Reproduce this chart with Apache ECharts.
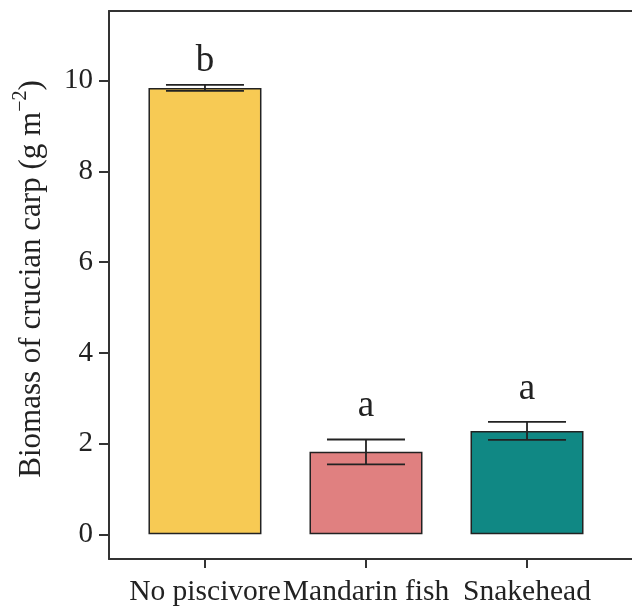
<!DOCTYPE html>
<html>
<head>
<meta charset="utf-8">
<script src="https://cdn.jsdelivr.net/npm/echarts@6/dist/echarts.min.js"></script>
<style>
html,body{margin:0;padding:0;background:#fff;}
#chart{width:632px;height:608px;}
</style>
</head>
<body>
<div id="chart"></div>
<script>
var categories = ['No piscivore', 'Mandarin fish', 'Snakehead'];
var means = [9.84, 1.82, 2.28];
var upper = [9.91, 2.09, 2.48];
var lower = [9.78, 1.54, 2.08];
var letters = ['b', 'a', 'a'];
var letterValues = [10.43, 2.83, 3.20];
var barColors = ['#F7CA54', '#E08080', '#108884'];
var yTicks = [0, 2, 4, 6, 8, 10];

var FONT = '"Liberation Serif", "Times New Roman", serif';
var INK = '#222';
var X_MIN = -0.596, X_MAX = 2.652;

var chart = echarts.init(document.getElementById('chart'), null, {renderer: 'canvas'});

var barData = categories.map(function (c, i) {
  return {value: [i, means[i]], itemStyle: {color: barColors[i]}};
});
var errData = categories.map(function (c, i) { return [i, lower[i], upper[i]]; });
var letterData = categories.map(function (c, i) { return [i, letterValues[i], letters[i]]; });
var xTicks = categories.map(function (c, i) { return i; });

var option = {
  animation: false,
  backgroundColor: '#fff',
  grid: {left: 109, right: 0, top: 11, bottom: 49, show: false},
  xAxis: [
    {
      type: 'value',
      min: X_MIN, max: X_MAX,
      splitLine: {show: false},
      axisLine: {show: true, onZero: false, lineStyle: {color: '#333', width: 2}},
      axisTick: {show: true, length: 9, lineStyle: {color: '#333', width: 2}, customValues: xTicks},
      axisLabel: {
        customValues: xTicks,
        showMinLabel: true, showMaxLabel: true, hideOverlap: false,
        formatter: function (v) { return categories[Math.round(v)]; },
        fontFamily: FONT, fontSize: 29.5, color: INK, margin: 18
      }
    },
    {
      type: 'value',
      position: 'top',
      min: X_MIN, max: X_MAX,
      splitLine: {show: false},
      axisLine: {show: true, onZero: false, lineStyle: {color: '#333', width: 2}},
      axisTick: {show: false},
      axisLabel: {show: false}
    }
  ],
  yAxis: {
    type: 'value',
    min: -0.545, max: 11.54,
    splitLine: {show: false},
    axisLine: {show: true, onZero: false, lineStyle: {color: '#333', width: 2}},
    axisTick: {show: true, length: 10, lineStyle: {color: '#333', width: 2}, customValues: yTicks},
    axisLabel: {customValues: yTicks, showMinLabel: true, showMaxLabel: true, fontFamily: FONT, fontSize: 29, color: INK, margin: 16},
    name: '{n|Biomass of crucian carp (g m}{s|\u22122}{n|)}',
    nameLocation: 'middle',
    nameRotate: 90,
    nameGap: 62,
    nameTextStyle: {
      padding: [0, 0, 0, 12],
      rich: {
        n: {fontFamily: FONT, fontSize: 31, color: INK, lineHeight: 36, verticalAlign: 'bottom'},
        s: {fontFamily: FONT, fontSize: 20, color: INK, lineHeight: 36, verticalAlign: 'top'}
      }
    }
  },
  series: [
    {
      type: 'bar',
      data: barData,
      barWidth: 113,
      itemStyle: {borderColor: INK, borderWidth: 1.5},
      z: 2
    },
    {
      type: 'custom',
      data: errData,
      z: 5,
      renderItem: function (params, api) {
        var x = api.value(0);
        var lo = api.coord([x, api.value(1)]);
        var hi = api.coord([x, api.value(2)]);
        var hw = 39;
        var st = {stroke: INK, lineWidth: 1.8};
        return {
          type: 'group',
          children: [
            {type: 'line', shape: {x1: hi[0], y1: hi[1], x2: lo[0], y2: lo[1]}, style: st},
            {type: 'line', shape: {x1: hi[0] - hw, y1: hi[1], x2: hi[0] + hw, y2: hi[1]}, style: st},
            {type: 'line', shape: {x1: lo[0] - hw, y1: lo[1], x2: lo[0] + hw, y2: lo[1]}, style: st}
          ]
        };
      }
    },
    {
      type: 'custom',
      data: letterData,
      z: 6,
      renderItem: function (params, api) {
        var p = api.coord([api.value(0), api.value(1)]);
        return {
          type: 'text',
          x: p[0], y: p[1],
          style: {
            text: letters[params.dataIndex],
            fontFamily: FONT, fontSize: 37, fill: INK,
            align: 'center', verticalAlign: 'middle'
          }
        };
      }
    }
  ]
};
chart.setOption(option);
</script>
</body>
</html>
